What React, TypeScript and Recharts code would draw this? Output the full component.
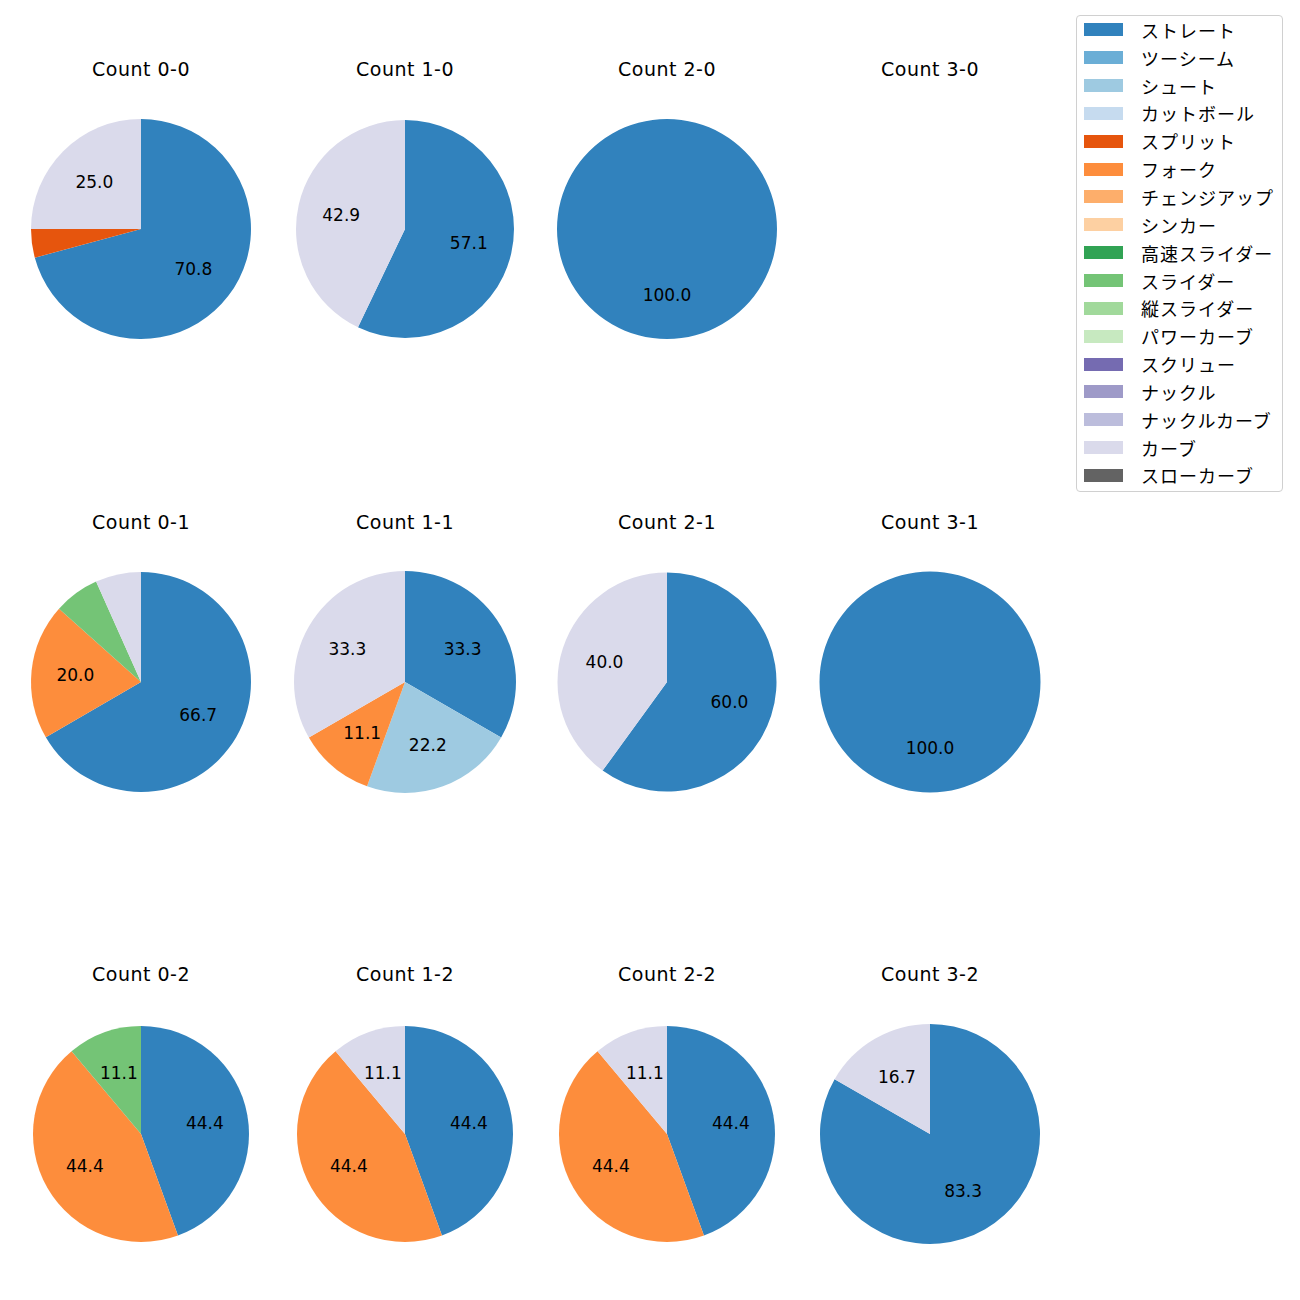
import React from 'react';
import { PieChart, Pie, Cell, Legend } from 'recharts';

const PITCH_TYPES = [
  'ストレート', 'ツーシーム', 'シュート', 'カットボール', 'スプリット', 'フォーク',
  'チェンジアップ', 'シンカー', '高速スライダー', 'スライダー', '縦スライダー',
  'パワーカーブ', 'スクリュー', 'ナックル', 'ナックルカーブ', 'カーブ', 'スローカーブ',
];

const PITCH_COLORS = [
  '#3182bd', '#6baed6', '#9ecae1', '#c6dbef', '#e6550d', '#fd8d3c',
  '#fdae6b', '#fdd0a2', '#31a354', '#74c476', '#a1d99b',
  '#c7e9c0', '#756bb1', '#9e9ac8', '#bcbddc', '#dadaeb', '#636363',
];

// share of pitches (%) per ball-strike count, in legend order
const count00: [string, number][] = [['ストレート', 70.8], ['スプリット', 4.2], ['カーブ', 25.0]];
const count10: [string, number][] = [['ストレート', 57.1], ['カーブ', 42.9]];
const count20: [string, number][] = [['ストレート', 100.0]];
const count30: [string, number][] = [];
const count01: [string, number][] = [['ストレート', 66.7], ['フォーク', 20.0], ['スライダー', 6.7], ['カーブ', 6.7]];
const count11: [string, number][] = [['ストレート', 33.3], ['シュート', 22.2], ['フォーク', 11.1], ['カーブ', 33.3]];
const count21: [string, number][] = [['ストレート', 60.0], ['カーブ', 40.0]];
const count31: [string, number][] = [['ストレート', 100.0]];
const count02: [string, number][] = [['ストレート', 44.4], ['フォーク', 44.4], ['スライダー', 11.1]];
const count12: [string, number][] = [['ストレート', 44.4], ['フォーク', 44.4], ['カーブ', 11.1]];
const count22: [string, number][] = [['ストレート', 44.4], ['フォーク', 44.4], ['カーブ', 11.1]];
const count32: [string, number][] = [['ストレート', 83.3], ['カーブ', 16.7]];

const COUNT_LABELS = ['0-0', '1-0', '2-0', '3-0', '0-1', '1-1', '2-1', '3-1', '0-2', '1-2', '2-2', '3-2'];
const COUNT_DATA = [count00, count10, count20, count30, count01, count11, count21, count31, count02, count12, count22, count32];

// layout
const COL_X = [141, 405, 667, 930];
const ROW_Y = [229, 682, 1134];
const RADII = [110, 109, 110, 110, 110, 111, 109.5, 110.5, 108, 108, 108, 110];
const FONT = '"DejaVu Sans", "Noto Sans CJK JP", sans-serif';
const JP_FONT = '"Noto Sans CJK JP", "DejaVu Sans", sans-serif';
const RAD = Math.PI / 180;

const renderPct = (props: any) => {
  const { cx, cy, midAngle, outerRadius, percent, value } = props;
  if (percent < 0.1) return null;
  const r = outerRadius * 0.6;
  const x = cx + r * Math.cos(-midAngle * RAD);
  const y = cy + r * Math.sin(-midAngle * RAD);
  return (
    <text x={x} y={y} textAnchor="middle" dominantBaseline="central" fill="#000" fontSize={17} fontFamily={FONT}>
      {Number(value).toFixed(1)}
    </text>
  );
};

const LegendBox = () => (
  <div
    style={{
      boxSizing: 'border-box',
      width: 207,
      height: 477,
      border: '1px solid #d0d0d0',
      borderRadius: 4,
      background: '#fff',
      fontFamily: JP_FONT,
      fontSize: 18,
      color: '#000',
    }}
  >
    {PITCH_TYPES.map((name, i) => (
      <div key={name} style={{ height: 27.85, display: 'flex', alignItems: 'center' }}>
        <div style={{ width: 39, height: 13, marginLeft: 7, background: PITCH_COLORS[i] }} />
        <span style={{ marginLeft: 18, lineHeight: 1, letterSpacing: 1 }}>{name}</span>
      </div>
    ))}
  </div>
);

export default function App() {
  return (
    <div style={{ position: 'absolute', left: 0, top: 0, width: 1300, height: 1300, background: '#fff' }}>
      <PieChart width={1300} height={1300} margin={{ top: 0, right: 0, bottom: 0, left: 0 }}>
        {COUNT_DATA.map((rows, k) => {
          if (rows.length === 0) return null;
          const data = rows.map(([name, value]) => ({ name, value }));
          return (
            <Pie
              key={COUNT_LABELS[k]}
              data={data}
              dataKey="value"
              nameKey="name"
              cx={COL_X[k % 4]}
              cy={ROW_Y[Math.floor(k / 4)]}
              outerRadius={RADII[k]}
              startAngle={90}
              endAngle={-270}
              stroke="none"
              label={renderPct}
              labelLine={false}
              isAnimationActive={false}
            >
              {data.map((d) => (
                <Cell key={d.name} fill={PITCH_COLORS[PITCH_TYPES.indexOf(d.name)]} />
              ))}
            </Pie>
          );
        })}
        <Legend
          layout="vertical"
          align="right"
          verticalAlign="top"
          content={() => <LegendBox />}
          wrapperStyle={{ position: 'absolute', left: 1076, top: 15, width: 207, height: 477 }}
        />
      </PieChart>
      {COUNT_LABELS.map((label, k) => (
        <div
          key={label}
          style={{
            position: 'absolute',
            left: COL_X[k % 4] - 100,
            width: 200,
            top: ROW_Y[Math.floor(k / 4)] - 160 - 14,
            height: 28,
            lineHeight: '28px',
            textAlign: 'center',
            fontFamily: FONT,
            fontSize: 19,
            letterSpacing: 0.5,
            color: '#000',
          }}
        >
          Count {label}
        </div>
      ))}
    </div>
  );
}
